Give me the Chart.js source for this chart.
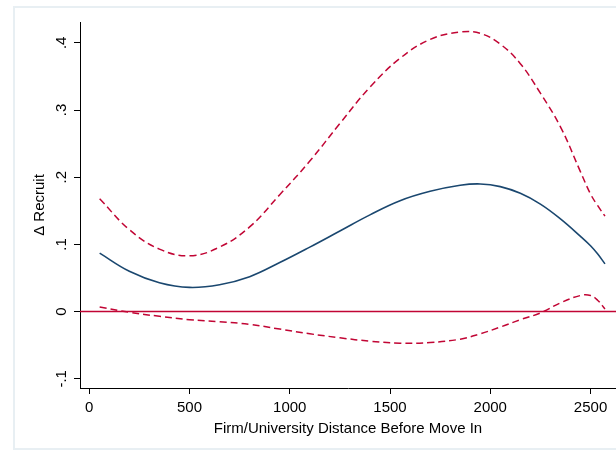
<!DOCTYPE html>
<html>
<head>
<meta charset="utf-8">
<script src="https://cdn.jsdelivr.net/npm/chart.js@4/dist/chart.umd.min.js"></script>
<style>
  html, body { margin: 0; padding: 0; background: #ffffff; }
  #frame {
    position: absolute; left: 13px; top: 6px; width: 620px; height: 444px;
    border: 2px solid #e8eff3; box-sizing: border-box;
  }
  #wrap { position: absolute; left: 0; top: 0; width: 616px; height: 452px; }
</style>
</head>
<body>
<div id="frame"></div>
<div id="wrap"><canvas id="chart" width="616" height="452"></canvas></div>
<script>
// Distance grid (x) and the estimated effect with its confidence band
const distance = [52, 200, 350, 500, 650, 800, 950, 1100, 1250, 1400, 1550, 1700, 1850, 1950, 2050, 2150, 2250, 2350, 2450, 2500, 2535, 2572];
const effect   = [0.087, 0.060, 0.043, 0.036, 0.040, 0.052, 0.073, 0.096, 0.120, 0.144, 0.165, 0.179, 0.188, 0.190, 0.186, 0.176, 0.160, 0.138, 0.112, 0.098, 0.086, 0.071];
const upperCI  = [0.168, 0.122, 0.093, 0.083, 0.096, 0.126, 0.174, 0.224, 0.280, 0.334, 0.377, 0.405, 0.416, 0.414, 0.398, 0.369, 0.325, 0.275, 0.208, 0.175, 0.158, 0.142];
const lowerCI  = [0.007, -0.001, -0.007, -0.012, -0.015, -0.019, -0.026, -0.033, -0.039, -0.044, -0.047, -0.046, -0.041, -0.033, -0.023, -0.012, -0.002, 0.013, 0.024, 0.024, 0.017, 0.004];

const xTicks = [0, 500, 1000, 1500, 2000, 2500];
const xTickLabels = ['0', '500', '1000', '1500', '2000', '2500'];
const yTicks = [-0.1, 0, 0.1, 0.2, 0.3, 0.4];
const yTickLabels = ['-.1', '0', '.1', '.2', '.3', '.4'];

const X_MIN = -46, X_MAX = 2627;
const Y_MIN = -0.1137, Y_MAX = 0.431;

const RED = '#c10534';
const NAVY = '#1a476f';
const FONT = 'Liberation Sans, Arial, Helvetica, sans-serif';

const pts = ys => distance.map((x, i) => ({ x: x, y: ys[i] }));
const labelFor = (ticks, labels) => v => {
  const i = ticks.findIndex(t => Math.abs(t - v) < 1e-9);
  return i >= 0 ? labels[i] : '';
};

new Chart(document.getElementById('chart'), {
  type: 'line',
  data: {
    datasets: [
      { label: 'zero', data: [{ x: X_MIN, y: 0 }, { x: X_MAX, y: 0 }],
        borderColor: RED, borderWidth: 1.5, pointRadius: 0, tension: 0 },
      { label: 'upper', data: pts(upperCI), borderColor: RED, borderWidth: 1.5,
        borderDash: [7, 4], pointRadius: 0, tension: 0.4 },
      { label: 'lower', data: pts(lowerCI), borderColor: RED, borderWidth: 1.5,
        borderDash: [7, 4], pointRadius: 0, tension: 0.4 },
      { label: 'effect', data: pts(effect), borderColor: NAVY, borderWidth: 1.6,
        pointRadius: 0, tension: 0.4 }
    ]
  },
  options: {
    responsive: false,
    animation: false,
    events: [],
    layout: { padding: { left: 0, top: 22, right: 0, bottom: 0 } },
    plugins: { legend: { display: false }, tooltip: { enabled: false } },
    scales: {
      x: {
        type: 'linear', min: X_MIN, max: X_MAX,
        afterBuildTicks: s => { s.ticks = xTicks.map(v => ({ value: v })); },
        afterFit: s => { s.height = 64; },
        grid: { display: true, drawOnChartArea: false, drawTicks: true, tickLength: 6, color: '#000', lineWidth: 1 },
        border: { display: true, color: '#000', width: 1 },
        ticks: { color: '#000', font: { family: FONT, size: 15 }, padding: 5, maxRotation: 0, autoSkip: false,
                 callback: labelFor(xTicks, xTickLabels) },
        title: { display: true, text: 'Firm/University Distance Before Move In', color: '#000',
                 font: { family: FONT, size: 15 }, padding: { top: 0, bottom: 14 } }
      },
      y: {
        type: 'linear', min: Y_MIN, max: Y_MAX,
        afterBuildTicks: s => { s.ticks = yTicks.map(v => ({ value: v })); },
        afterFit: s => { s.width = 80; },
        grid: { display: true, drawOnChartArea: false, drawTicks: true, tickLength: 6, color: '#000', lineWidth: 1 },
        border: { display: true, color: '#000', width: 1 },
        ticks: {
          color: '#000', font: { family: FONT, size: 15 }, padding: 3,
          minRotation: 90, maxRotation: 90, crossAlign: 'center', autoSkip: false,
          callback: labelFor(yTicks, yTickLabels)
        },
        title: { display: true, text: 'Δ Recruit', color: '#000',
                 font: { family: FONT, size: 15 }, padding: { top: 31, bottom: 0 } }
      }
    }
  }
});
</script>
</body>
</html>
